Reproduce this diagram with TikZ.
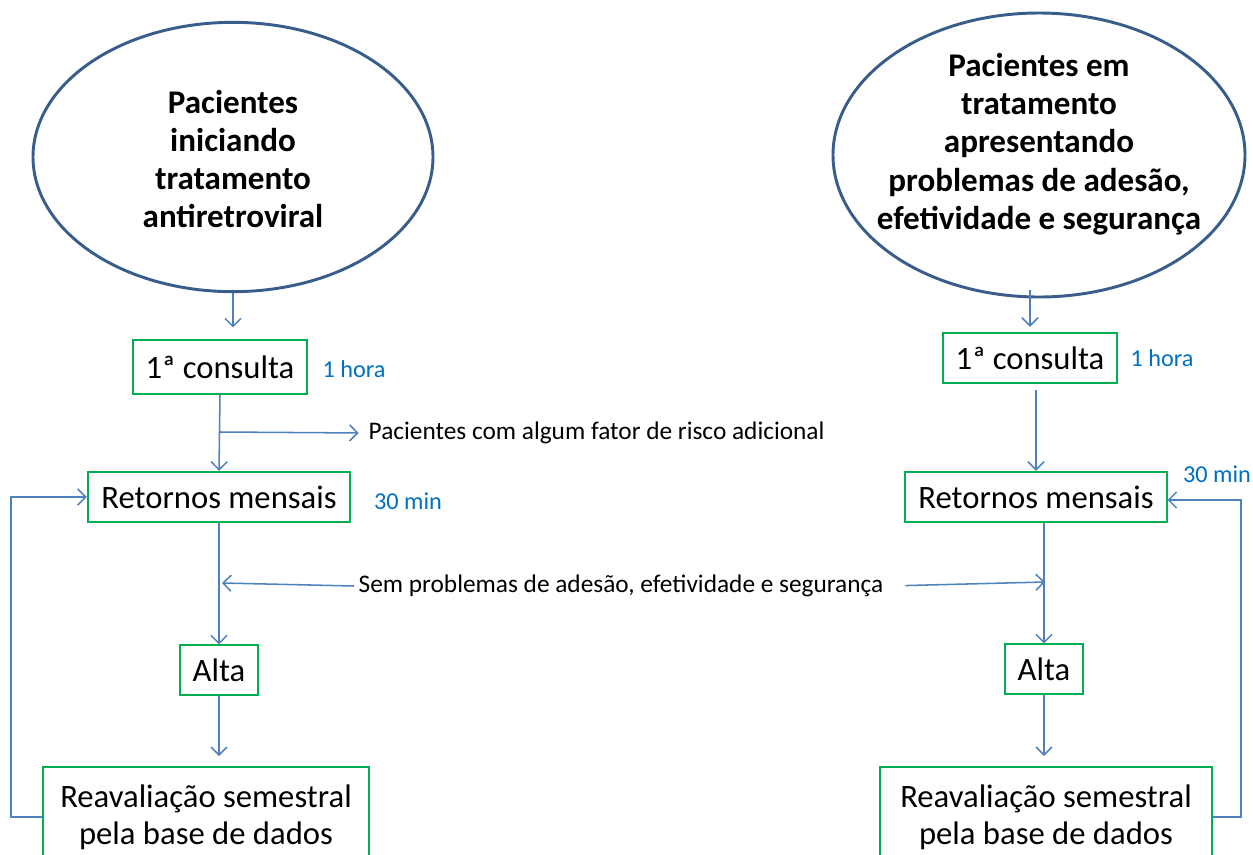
\documentclass[tikz,border=0pt]{standalone}
\usepackage{fontspec}
\setmainfont{Carlito}
\usepackage{tikz}
\usetikzlibrary{positioning, arrows.meta, calc, shapes.geometric}
\definecolor{ovalblue}{HTML}{385D8A}
\definecolor{linkblue}{HTML}{4F81BD}
\definecolor{boxgreen}{HTML}{00B050}
\definecolor{noteblue}{HTML}{0070C0}

\tikzset{
  oval/.style={ellipse, draw=ovalblue, line width=2.2pt},
  ovaltext/.style={align=center, font=\fontsize{24.8}{28.7}\selectfont\bfseries},
  stage/.style={draw=boxgreen, line width=1.3pt, inner sep=0pt, align=center,
                font=\fontsize{24.5}{27.8}\selectfont},
  note/.style={text=noteblue, font=\fontsize{18.2}{21}\selectfont},
  remark/.style={font=\fontsize{19}{22}\selectfont},
  link/.style={draw=linkblue, line width=1.15pt, -{Straight Barb[length=6pt, width=12pt]}},
}

\begin{document}
\begin{tikzpicture}[x=0.75pt, y=-0.75pt]
  \useasboundingbox (0,0) rectangle (1253,854);
  \clip (0,0) rectangle (1253,854);

  % left column
  \node[oval, minimum width=300pt, minimum height=202pt] (start) at (233,157) {};
  \node[ovaltext] at (233,159) {Pacientes\\iniciando\\tratamento\\antiretroviral};
  \node[stage, minimum width=130pt, minimum height=40pt] (first) at (220,367) {1ª consulta};
  \node[note] (firsttime) at (354,369) {1 hora};
  \node[stage, minimum width=197pt, minimum height=38pt] (monthly) at (219,497) {Retornos mensais};
  \node[note] (monthlytime) at (408,501) {30 min};
  \node[stage, minimum width=58pt, minimum height=37pt] (discharge) at (219,670) {Alta};
  \node[stage, minimum width=245pt, minimum height=75pt] (review) at (206,817)
    {Reavaliação semestral\\pela base de dados};

  % right column
  \node[oval, minimum width=309pt, minimum height=213pt] (ongoing) at (1039,155) {};
  \node[ovaltext] at (1039,144) {Pacientes em\\tratamento\\apresentando\\problemas de adesão,\\efetividade e segurança};
  \node[stage, minimum width=130pt, minimum height=38pt] (firstb) at (1030,358) {1ª consulta};
  \node[note] (firstbtime) at (1162,358) {1 hora};
  \node[stage, minimum width=196pt, minimum height=38pt] (monthlyb) at (1036,497) {Retornos mensais};
  \node[note] (monthlybtime) at (1217,474) {30 min};
  \node[stage, minimum width=58pt, minimum height=37pt] (dischargeb) at (1044,669) {Alta};
  \node[stage, minimum width=249pt, minimum height=75pt] (reviewb) at (1046,817)
    {Reavaliação semestral\\pela base de dados};

  % notes between the columns
  \node[remark, anchor=west] (risk) at (364,433) {Pacientes com algum fator de risco adicional};
  \node[remark] (stable) at (621,586) {Sem problemas de adesão, efetividade e segurança};

  % connectors, left
  \coordinate (riskfork) at (220,432);
  \coordinate (stableleft) at (222,583);
  \draw[link, shorten >=9pt] (start.south) -- (start.south |- first.north);
  \draw[link] (first.south) -- (monthly.north);
  \draw[link, shorten >=4pt] (riskfork) -- (risk.west);
  \draw[link] (stable.west) -- (stableleft);
  \draw[link] (monthly.south) -- (discharge.north);
  \draw[link, shorten >=7.5pt] (discharge.south) -- (discharge.south |- review.north);
  \draw[link] (review.west) -- ++(-31,0) |- (monthly.west);

  % connectors, right
  \coordinate (ongoingfoot) at (1030,290);
  \coordinate (firstbfoot) at (1036,390);
  \coordinate (stableright) at (1045,582);
  \draw[link, shorten >=3.75pt] (ongoingfoot) -- (ongoingfoot |- firstb.north);
  \draw[link] (firstbfoot) -- (firstbfoot |- monthlyb.north);
  \draw[link] (monthlyb.south -| dischargeb.north) -- (dischargeb.north);
  \draw[link, shorten <=13pt] (stable.east) -- (stableright);
  \draw[link, shorten >=7.5pt] (dischargeb.south) -- (dischargeb.south |- reviewb.north);
  \draw[link] (reviewb.east) -- ++(28,0) |- ($(monthlyb.east)+(0,3)$);
\end{tikzpicture}
\end{document}
